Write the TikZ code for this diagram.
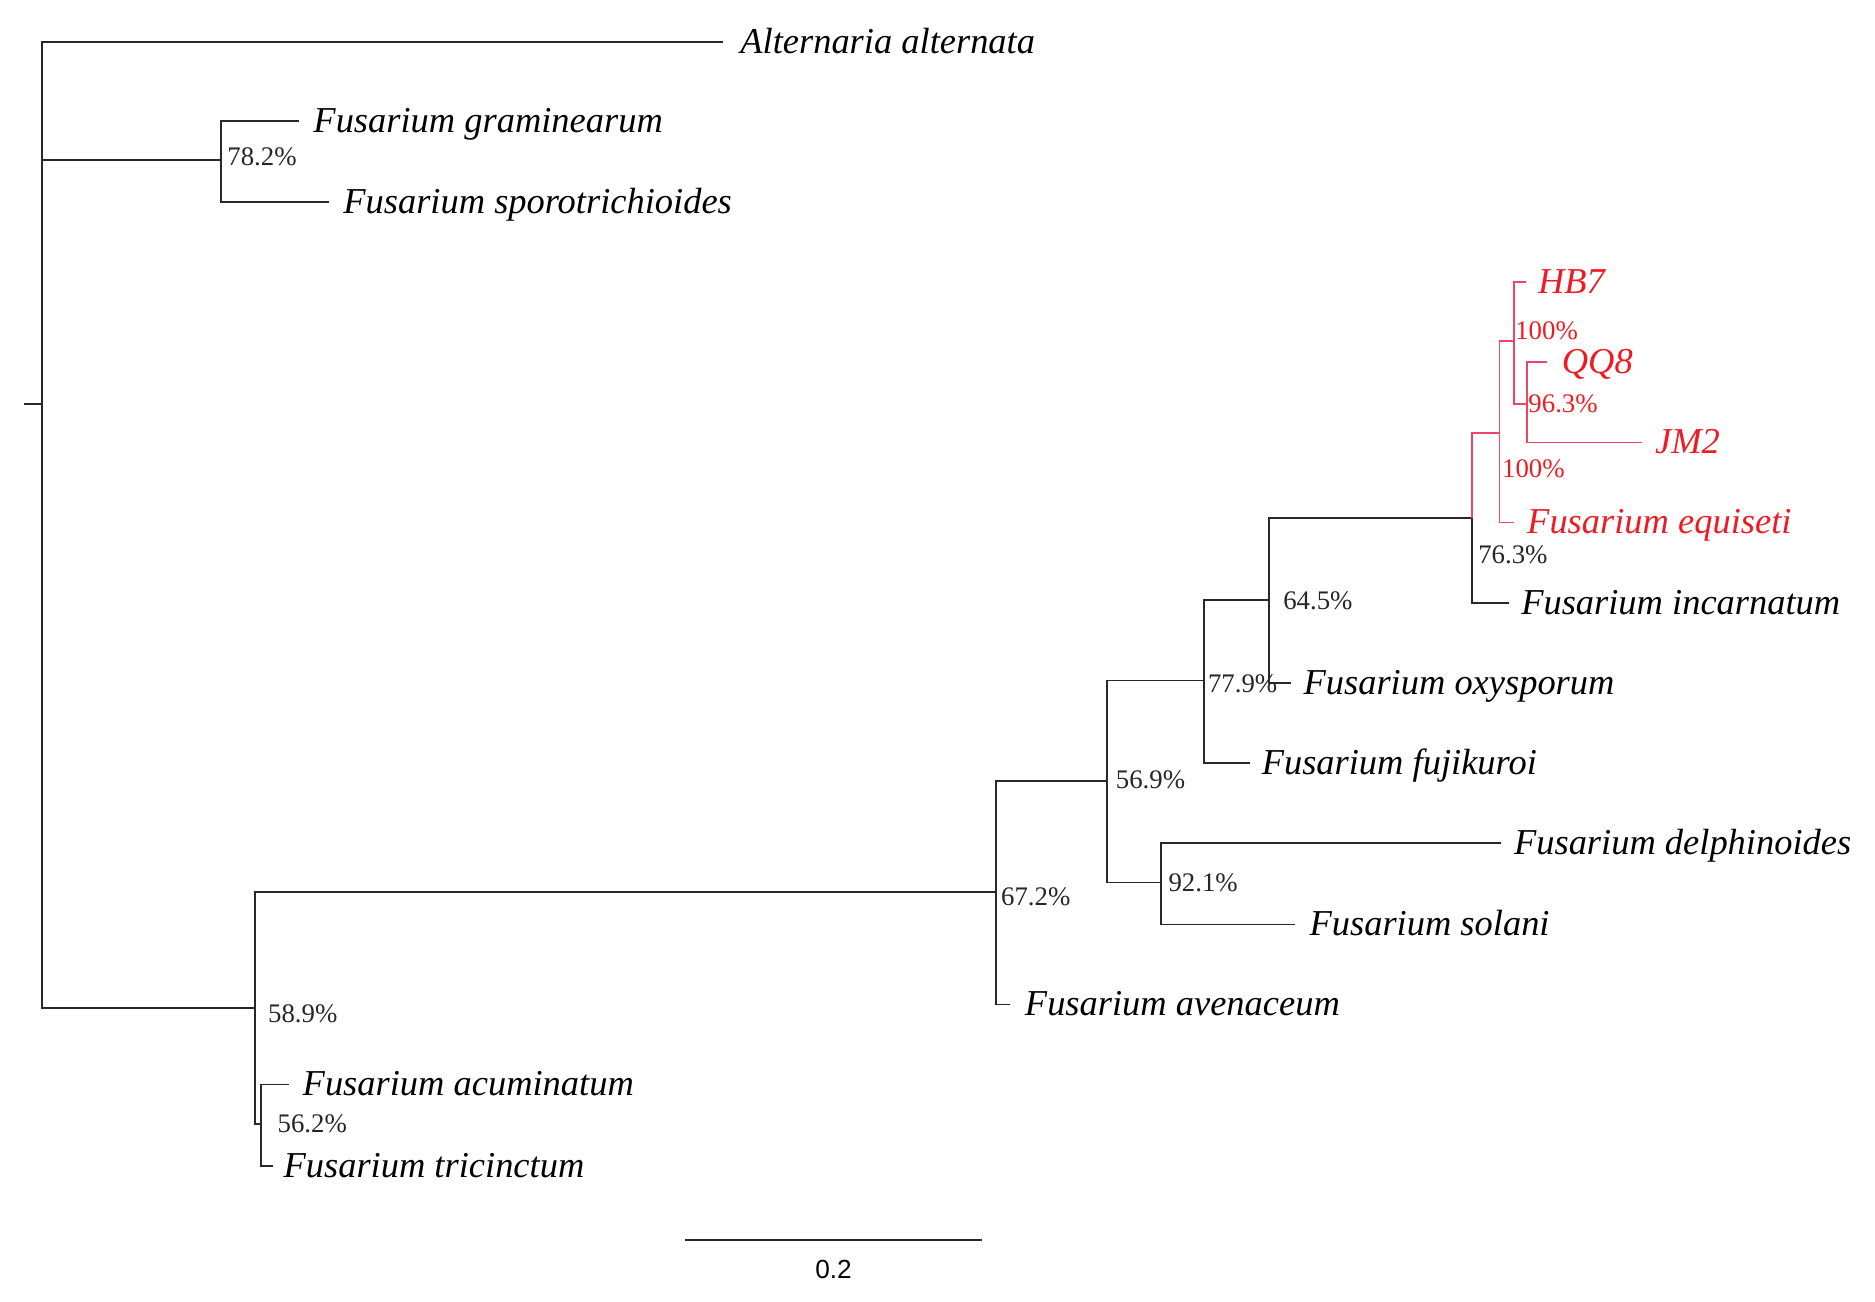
\documentclass[tikz,border=0pt]{standalone}
\usepackage{fontspec}
\setmainfont{Liberation Serif}
\newfontfamily\barfont{Liberation Sans}
\definecolor{redline}{RGB}{236,70,100}
\definecolor{redtext}{RGB}{236,28,36}
\definecolor{linegray}{RGB}{40,40,40}
\tikzset{
  br/.style={draw=linegray, line width=1.4bp},
  rbr/.style={draw=redline, line width=1.4bp},
  taxon/.style={anchor=west, inner sep=0pt, yshift=-7bp, font=\fontsize{30.6}{32}\selectfont\itshape, text height=0.7em, text depth=0.2em},
  rtaxon/.style={taxon, text=redtext},
  boot/.style={anchor=west, inner sep=0pt, font=\fontsize{22.5}{24}\selectfont, text=black!85},
  rboot/.style={boot, text=redtext},
}
\begin{document}
\begin{tikzpicture}[x=1bp,y=-1bp]
\useasboundingbox (0,0) rectangle (1568,1088);
% internal nodes
\coordinate (stub) at (20,338);
\coordinate (root) at (35,338);
\coordinate (nA) at (185,134);
\coordinate (nB) at (213,843);
\coordinate (nAT) at (218,940);
\coordinate (nC) at (833,746);
\coordinate (nD) at (926,653);
\coordinate (nK) at (971,738);
\coordinate (nE) at (1007,569);
\coordinate (nF) at (1061,502);
\coordinate (nG) at (1231,433);
\coordinate (nH) at (1254,362);
\coordinate (nI) at (1266,285);
\coordinate (nJ) at (1277,338);
% tips
\coordinate (tAlt) at (605,35);
\coordinate (tGra) at (250,101);
\coordinate (tSpo) at (275,169);
\coordinate (tAcu) at (242,907);
\coordinate (tTri) at (228,975);
\coordinate (tAve) at (845,840);
\coordinate (tDel) at (1255,705);
\coordinate (tSol) at (1083,773);
\coordinate (tFuj) at (1045,638);
\coordinate (tOxy) at (1080,571);
\coordinate (tInc) at (1262,504);
\coordinate (tEqu) at (1266,437);
\coordinate (tHB) at (1276,236);
\coordinate (tQQ) at (1294,303);
\coordinate (tJM) at (1373,370);
% branches
\draw[br] (stub) -- (root);
\draw[br] (root) |- (tAlt);
\draw[br] (root) |- (nA);
\draw[br] (root) |- (nB);
\draw[br] (nA) |- (tGra);
\draw[br] (nA) |- (tSpo);
\draw[br] (nB) |- (nC);
\draw[br] (nB) |- (nAT);
\draw[br] (nAT) |- (tAcu);
\draw[br] (nAT) |- (tTri);
\draw[br] (nC) |- (nD);
\draw[br] (nC) |- (tAve);
\draw[br] (nD) |- (nE);
\draw[br] (nD) |- (nK);
\draw[br] (nK) |- (tDel);
\draw[br] (nK) |- (tSol);
\draw[br] (nE) |- (nF);
\draw[br] (nE) |- (tFuj);
\draw[br] (nF) |- (nG);
\draw[br] (nF) |- (tOxy);
\draw[br] (nG) |- (tInc);
\draw[rbr] (nG) |- (nH);
\draw[rbr] (nH) |- (nI);
\draw[rbr] (nH) |- (tEqu);
\draw[rbr] (nI) |- (tHB);
\draw[rbr] (nI) |- (nJ);
\draw[rbr] (nJ) |- (tQQ);
\draw[rbr] (nJ) |- (tJM);
% taxon labels
\node[taxon] (lAlt) at ([xshift=14]tAlt) {Alternaria alternata};
\node[taxon] (lGra) at ([xshift=12]tGra) {Fusarium graminearum};
\node[taxon] (lSpo) at ([xshift=12]tSpo) {Fusarium sporotrichioides};
\node[taxon] (lAcu) at ([xshift=11]tAcu) {Fusarium acuminatum};
\node[taxon] (lTri) at ([xshift=9]tTri) {Fusarium tricinctum};
\node[taxon] (lAve) at ([xshift=12]tAve) {Fusarium avenaceum};
\node[taxon] (lDel) at ([xshift=11]tDel) {Fusarium delphinoides};
\node[taxon] (lSol) at ([xshift=12]tSol) {Fusarium solani};
\node[taxon] (lFuj) at ([xshift=10]tFuj) {Fusarium fujikuroi};
\node[taxon] (lOxy) at ([xshift=10]tOxy) {Fusarium oxysporum};
\node[taxon] (lInc) at ([xshift=10]tInc) {Fusarium incarnatum};
\node[rtaxon] (lEqu) at ([xshift=11]tEqu) {Fusarium equiseti};
\node[rtaxon] (lHB) at ([xshift=10]tHB) {HB7};
\node[rtaxon] (lQQ) at ([xshift=12]tQQ) {QQ8};
\node[rtaxon] (lJM) at ([xshift=11]tJM) {JM2};
% bootstrap values
\node[boot] (bA) at (190,131) {78.2\%};
\node[boot] (bB) at (224,848) {58.9\%};
\node[boot] (bAT) at (232,940) {56.2\%};
\node[boot] (bC) at (837,750) {67.2\%};
\node[boot] (bD) at (933,652) {56.9\%};
\node[boot] (bE) at (1010,572) {77.9\%};
\node[boot] (bF) at (1073,502) {64.5\%};
\node[boot] (bK) at (977,738) {92.1\%};
\node[boot] (bG) at (1236,464) {76.3\%};
\node[rboot] (bH) at (1256,392) {100\%};
\node[rboot] (bI) at (1267,277) {100\%};
\node[rboot] (bJ) at (1278,338) {96.3\%};
% scale bar
\coordinate (sb1) at (573,1037);
\coordinate (sb2) at (821,1037);
\draw[br] (sb1) -- (sb2);
\node[inner sep=0pt, font=\barfont\fontsize{22}{24}\selectfont] (sbl) at (697,1062) {0.2};
\end{tikzpicture}
\end{document}
